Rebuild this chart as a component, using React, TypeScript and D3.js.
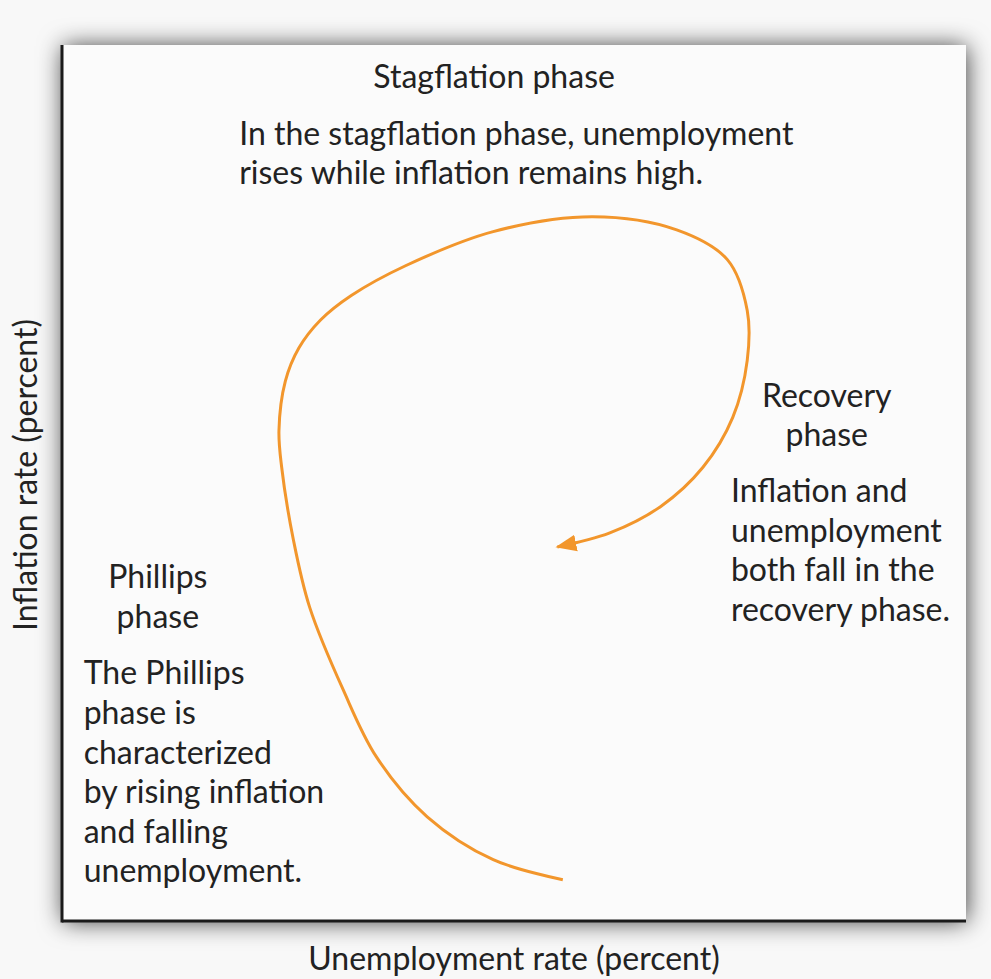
import React, { useEffect, useRef } from "react";
import * as d3 from "d3";

const W = 991;
const H = 979;
const frame = { left: 62, top: 45, right: 966, bottom: 921 };

// path of the economy (0-10 units on each axis)
const unemployment = [5.54, 4.77, 4.04, 3.48, 3.11, 2.74, 2.56, 2.43, 2.4, 2.47, 2.62, 2.86, 3.2, 3.8, 4.77, 5.87, 6.8, 7.36, 7.58, 7.58, 7.42, 7.09, 6.62, 6.06, 5.48];
const inflation = [0.47, 0.7, 1.19, 1.87, 2.64, 3.58, 4.35, 5.18, 5.6, 6.16, 6.54, 6.86, 7.14, 7.48, 7.87, 8.04, 7.89, 7.55, 6.97, 6.4, 5.75, 5.18, 4.73, 4.43, 4.27];

const xLabel = "Unemployment rate (percent)";
const yLabel = "Inflation rate (percent)";

// text blocks: position in data units, anchor, lines
const titles = [
  { x: 4.78, y: 9.51, anchor: "middle", lines: ["Stagflation phase"] },
  { x: 8.46, y: 5.87, anchor: "middle", lines: ["Recovery", "phase"] },
  { x: 1.06, y: 3.8, anchor: "middle", lines: ["Phillips", "phase"] },
];
const notes = [
  { x: 1.96, y: 8.86, anchor: "start", lines: ["In the stagflation phase, unemployment", "rises while inflation remains high."] },
  { x: 7.4, y: 4.78, anchor: "start", lines: ["Inflation and", "unemployment", "both fall in the", "recovery phase."] },
  { x: 0.24, y: 2.7, anchor: "start", lines: ["The Phillips", "phase is", "characterized", "by rising inflation", "and falling", "unemployment."] },
];

const orange = "#f2962c";
const ink = "#222222";
const font = "Lato, sans-serif";
const fontSize = "32px";

export default function App() {
  const ref = useRef<SVGSVGElement>(null);

  useEffect(() => {
    const svg = d3.select(ref.current);
    svg.selectAll("*").remove();

    const xScale = d3.scaleLinear().domain([0, 10]).range([frame.left, frame.right]);
    const yScale = d3.scaleLinear().domain([0, 10]).range([frame.bottom, frame.top]);

    const defs = svg.append("defs");
    const shadow = defs.append("filter").attr("id", "shadow")
      .attr("x", "-10%").attr("y", "-10%").attr("width", "120%").attr("height", "120%");
    shadow.append("feDropShadow")
      .attr("dx", 1).attr("dy", 1).attr("stdDeviation", 12)
      .attr("flood-color", "#000").attr("flood-opacity", 0.75);

    defs.append("marker")
      .attr("id", "arrow")
      .attr("markerUnits", "userSpaceOnUse")
      .attr("viewBox", "0 -9 22 18")
      .attr("refX", 19).attr("refY", 0)
      .attr("markerWidth", 22).attr("markerHeight", 18)
      .attr("orient", "auto")
      .append("path")
      .attr("d", "M0,-8.5L21,0L0,8.5Z")
      .attr("fill", orange);

    svg.append("rect").attr("width", W).attr("height", H).attr("fill", "#f8f8f8");

    // frame
    svg.append("rect")
      .attr("x", frame.left).attr("y", frame.top)
      .attr("width", frame.right - frame.left).attr("height", frame.bottom - frame.top)
      .attr("fill", "#fbfbfb")
      .attr("filter", "url(#shadow)");

    svg.append("line")
      .attr("x1", frame.left).attr("x2", frame.left)
      .attr("y1", frame.top).attr("y2", frame.bottom + 1.5)
      .attr("stroke", "#1a1a1a").attr("stroke-width", 3);
    svg.append("line")
      .attr("x1", frame.left).attr("x2", frame.right)
      .attr("y1", frame.bottom).attr("y2", frame.bottom)
      .attr("stroke", "#1a1a1a").attr("stroke-width", 3);

    const pts: [number, number][] = unemployment.map((u, i) => [u, inflation[i]]);
    svg.append("path")
      .datum(pts)
      .attr("fill", "none")
      .attr("stroke", orange)
      .attr("stroke-width", 3)
      .attr("marker-end", "url(#arrow)")
      .attr("d", d3.line<[number, number]>()
        .x(d => xScale(d[0]))
        .y(d => yScale(d[1]))
        .curve(d3.curveCatmullRom.alpha(0.5)));

    const lineH = 39.6;
    [...titles, ...notes].forEach(b => {
      const t = svg.append("text")
        .attr("x", xScale(b.x))
        .attr("y", yScale(b.y))
        .attr("text-anchor", b.anchor)
        .attr("fill", ink)
        .style("font-family", font)
        .style("font-size", fontSize);
      b.lines.forEach((l, i) => {
        t.append("tspan").attr("x", xScale(b.x)).attr("dy", i === 0 ? 0 : lineH).text(l);
      });
    });

    svg.append("text")
      .attr("x", 514)
      .attr("y", 970)
      .attr("text-anchor", "middle")
      .attr("fill", ink)
      .style("font-family", font)
      .style("font-size", fontSize)
      .text(xLabel);

    svg.append("text")
      .attr("transform", "translate(37,475)rotate(-90)")
      .attr("text-anchor", "middle")
      .attr("fill", ink)
      .style("font-family", font)
      .style("font-size", fontSize)
      .text(yLabel);
  }, []);

  return (
    <svg ref={ref} width={W} height={H}
      style={{ position: "absolute", left: 0, top: 0, display: "block" }} />
  );
}
